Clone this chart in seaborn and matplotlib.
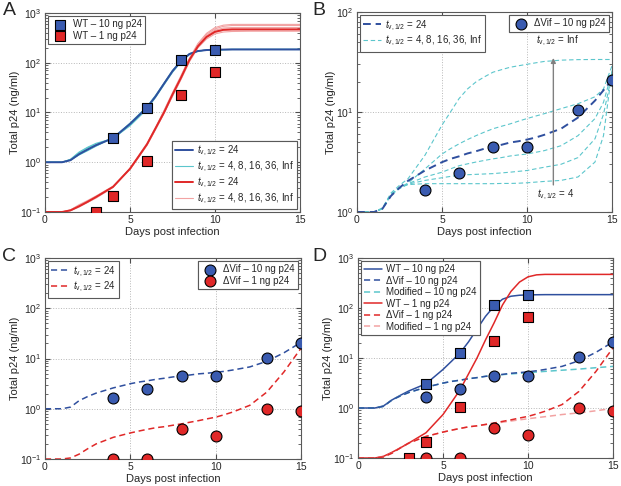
import matplotlib
matplotlib.use("Agg")
import matplotlib.pyplot as plt
import seaborn as sns

# ==========================================
# Datos
# ==========================================
days = [0, 1, 1.5, 2, 2.5, 3, 4, 5, 5.5, 6, 6.5, 7, 7.5, 8, 8.5, 9, 9.5,
        10, 10.5, 11, 12, 13, 14, 14.5, 15]

# WT (t_v,1/2 = 24)
wt10 = [1.0, 1.0, 1.1, 1.45, 1.8, 2.2, 3.05, 5.9, 8.6, 12.6, 21, 38, 68, 108, 150,
        172, 180, 183, 184, 185, 185, 185, 185, 185, 185]
wt1 = [0.1, 0.1, 0.108, 0.13, 0.16, 0.2, 0.32, 0.74, 1.3, 2.3, 4.8, 10, 23, 50, 115,
       215, 330, 420, 460, 470, 470, 470, 470, 470, 470]

# WT, t_v,1/2 = 4, 8, 16, 36, Inf
wt10_fam = [
    [1, 1, 1.15, 1.6, 2.0, 2.4, 3.0, 5.4, 7.9, 11.7, 20, 36, 64, 104, 147, 172, 180, 183, 184, 185, 185, 185, 185, 185, 185],
    [1, 1, 1.13, 1.55, 1.95, 2.3, 3.0, 5.6, 8.2, 12.0, 20.5, 37, 66, 106, 149, 172, 180, 183, 184, 185, 185, 185, 185, 185, 185],
    [1, 1, 1.12, 1.5, 1.85, 2.25, 3.0, 5.8, 8.4, 12.3, 21, 37.5, 67, 107, 150, 172, 180, 183, 184, 185, 185, 185, 185, 185, 185],
    [1, 1, 1.1, 1.42, 1.75, 2.15, 3.05, 6.0, 8.8, 12.9, 21.5, 38.5, 69, 109, 151, 172, 180, 183, 184, 185, 185, 185, 185, 185, 185],
    [1, 1, 1.1, 1.4, 1.7, 2.1, 3.1, 6.1, 9.0, 13.2, 22, 39, 70, 110, 152, 173, 180, 183, 184, 185, 185, 185, 185, 185, 185],
]
wt1_fam = [
    [0.1, 0.1, 0.11, 0.14, 0.17, 0.21, 0.33, 0.72, 1.25, 2.2, 4.5, 9.5, 21, 46, 105, 200, 300, 380, 415, 425, 430, 430, 430, 430, 430],
    [0.1, 0.1, 0.11, 0.135, 0.165, 0.2, 0.32, 0.72, 1.25, 2.2, 4.6, 9.7, 22, 48, 110, 210, 320, 405, 445, 455, 455, 455, 455, 455, 455],
    [0.1, 0.1, 0.108, 0.13, 0.16, 0.2, 0.32, 0.73, 1.3, 2.3, 4.8, 10, 23, 50, 116, 225, 350, 450, 500, 510, 510, 510, 510, 510, 510],
    [0.1, 0.1, 0.107, 0.128, 0.158, 0.2, 0.32, 0.75, 1.3, 2.3, 4.9, 10.5, 24, 53, 120, 235, 370, 480, 540, 560, 560, 560, 560, 560, 560],
    [0.1, 0.1, 0.106, 0.126, 0.155, 0.19, 0.31, 0.76, 1.35, 2.4, 5.0, 11, 25, 55, 125, 245, 390, 510, 570, 590, 590, 590, 590, 590, 590],
]

# Delta Vif (t_v,1/2 = 24)
vif10 = [1.0, 1.0, 1.08, 1.45, 1.75, 2.05, 2.6, 3.15, 3.4, 3.6, 3.85, 4.05, 4.3, 4.5, 4.7,
         4.95, 5.1, 5.3, 5.55, 5.9, 6.8, 8.8, 13, 16.5, 21]
vif1 = [0.1, 0.1, 0.105, 0.125, 0.16, 0.2, 0.27, 0.33, 0.36, 0.39, 0.42, 0.44, 0.47, 0.5,
        0.54, 0.58, 0.63, 0.68, 0.76, 0.86, 1.17, 2.15, 5.4, 9.3, 16]

# Delta Vif, t_v,1/2 = 4, 8, 16, 36, Inf (panel B)
vif10_fam = [
    [1, 1, 1.08, 1.5, 1.75, 1.88, 1.92, 1.92, 1.92, 1.92, 1.92, 1.92, 1.92, 1.92, 1.93, 1.93, 1.94, 1.96, 1.99, 2.02, 2.07, 2.24, 3.16, 5.8, 26],
    [1, 1, 1.08, 1.5, 1.72, 1.9, 2.07, 2.2, 2.27, 2.33, 2.36, 2.38, 2.4, 2.42, 2.46, 2.5, 2.55, 2.6, 2.7, 2.8, 3.0, 3.5, 5.4, 9.5, 24],
    [1, 1, 1.08, 1.48, 1.72, 1.92, 2.24, 2.5, 2.7, 2.9, 3.03, 3.16, 3.28, 3.4, 3.5, 3.63, 3.72, 3.8, 3.95, 4.1, 4.6, 5.8, 8.6, 12.5, 25],
    [1, 1, 1.08, 1.5, 1.75, 1.95, 2.7, 3.8, 4.3, 4.8, 5.3, 5.8, 6.3, 6.8, 7.2, 7.6, 8.1, 8.6, 9.1, 9.6, 10.8, 12.1, 14.2, 17, 29],
    [1, 1, 1.1, 1.55, 1.85, 2.15, 3.7, 7.4, 10, 13.6, 17, 20, 22.5, 25, 26.5, 28, 29, 30, 31, 32, 33, 33.4, 33.5, 33.5, 33.5],
]

# Modificado (panel D)
mod10 = [1.0, 1.0, 1.08, 1.45, 1.75, 2.05, 2.6, 3.15, 3.4, 3.6, 3.85, 4.05, 4.3, 4.5, 4.65,
         4.8, 4.95, 5.1, 5.25, 5.4, 5.7, 6.0, 6.4, 6.6, 6.8]
mod1 = [0.1, 0.1, 0.105, 0.125, 0.16, 0.2, 0.27, 0.33, 0.36, 0.39, 0.42, 0.44, 0.465, 0.49,
        0.52, 0.55, 0.58, 0.61, 0.64, 0.67, 0.74, 0.8, 0.88, 0.93, 0.98]

# Datos experimentales
wt10_days = [4, 6, 8, 10]
wt10_obs = [3.05, 12.6, 115, 178]
wt1_days = [3, 4, 6, 8, 10]
wt1_obs = [0.1, 0.21, 1.05, 22, 66]
vif_days = [4, 6, 8, 10, 13, 15]
vif10_obs = [1.66, 2.44, 4.45, 4.45, 10.4, 20.8]
vif1_obs = [0.1, 0.1, 0.4, 0.29, 1.0, 0.89]

# ==========================================
# Estilo
# ==========================================
sns.set_style("ticks")
plt.rcParams["font.family"] = ["Liberation Sans", "DejaVu Sans"]
plt.rcParams["mathtext.fontset"] = "custom"
plt.rcParams["mathtext.rm"] = "Liberation Sans"
plt.rcParams["mathtext.it"] = "Liberation Sans:italic"
plt.rcParams["mathtext.default"] = "regular"

BLUE = "#2f4f9e"
BLUE_M = "#3a5bb0"
CYAN = "#5cc6cc"
RED = "#e02828"
PINK = "#f2a3a3"
DASH = (0, (4, 2.5))
TV = r"$\mathit{t}_{v,1/2}$"

fig = plt.figure(figsize=(6.21, 4.86), dpi=100)
axA = fig.add_axes([45 / 621, 1 - 212 / 486, 255 / 621, 199 / 486])
axB = fig.add_axes([357 / 621, 1 - 212 / 486, 255 / 621, 200 / 486])
axC = fig.add_axes([45 / 621, 1 - 459 / 486, 256 / 621, 201 / 486])
axD = fig.add_axes([358 / 621, 1 - 458 / 486, 255 / 621, 200 / 486])


def curve(ax, y, color, ls="-", lw=1.2):
    sns.lineplot(x=days, y=y, ax=ax, color=color, linestyle=ls, linewidth=lw, legend=False)
    return ax.lines[-1]


def points(ax, x, y, color, marker, s):
    sns.scatterplot(x=x, y=y, ax=ax, color=color, marker=marker, s=s,
                    edgecolor="black", linewidth=0.8, zorder=5, legend=False)
    return ax.collections[-1]


def legend(ax, handles, labels, loc, size=7):
    lg = ax.legend(handles, labels, loc=loc, fontsize=size, fancybox=False,
                   edgecolor="0.35", framealpha=1, handlelength=1.8,
                   labelspacing=0.15, borderpad=0.35, handletextpad=0.4,
                   borderaxespad=0.3, scatterpoints=1)
    lg.get_frame().set_linewidth(0.8)
    ax.add_artist(lg)
    return lg


for ax in [axA, axB, axC, axD]:
    ax.set_yscale("log")

# ---------- A ----------
for y in wt10_fam:
    hc = curve(axA, y, CYAN, lw=0.8)
for y in wt1_fam:
    hp = curve(axA, y, PINK, lw=0.8)
hb = curve(axA, wt10, BLUE, lw=1.4)
hr = curve(axA, wt1, RED, lw=1.4)
sb = points(axA, wt10_days, wt10_obs, BLUE_M, "s", 48)
sr = points(axA, wt1_days, wt1_obs, RED, "s", 48)
legend(axA, [sb, sr], ["WT \u2013 10 ng p24", "WT \u2013 1 ng p24"], "upper left")
legend(axA, [hb, hc, hr, hp],
       [TV + " = 24", TV + " = 4, 8, 16, 36, Inf", TV + " = 24", TV + " = 4, 8, 16, 36, Inf"],
       "lower right")
axA.set_ylim(0.1, 1000)

# ---------- B ----------
for y in vif10_fam:
    hc2 = curve(axB, y, CYAN, ls=DASH, lw=0.8)
hb2 = curve(axB, vif10, BLUE, ls=DASH, lw=1.4)
cb = points(axB, vif_days, vif10_obs, BLUE_M, "o", 62)
legend(axB, [hb2, hc2], [TV + " = 24", TV + " = 4, 8, 16, 36, Inf"], "upper left")
legend(axB, [cb], ["\u0394Vif \u2013 10 ng p24"], "upper right")
axB.annotate("", xy=(11.55, 37), xytext=(11.55, 1.75),
             arrowprops=dict(arrowstyle="-|>", color="0.5", lw=1.0, mutation_scale=7))
axB.text(10.5, 52, TV + " = Inf", fontsize=7, va="center")
axB.text(10.6, 1.47, TV + " = 4", fontsize=7, va="center")
axB.set_ylim(1, 100)

# ---------- C ----------
hb3 = curve(axC, vif10, BLUE, ls=DASH, lw=1.1)
hr3 = curve(axC, vif1, RED, ls=DASH, lw=1.1)
cb3 = points(axC, vif_days, vif10_obs, BLUE_M, "o", 62)
cr3 = points(axC, vif_days, vif1_obs, RED, "o", 62)
legend(axC, [hb3, hr3], [TV + " = 24", TV + " = 24"], "upper left")
legend(axC, [cb3, cr3], ["\u0394Vif \u2013 10 ng p24", "\u0394Vif \u2013 1 ng p24"], "upper right")
axC.set_ylim(0.1, 1000)

# ---------- D ----------
d1 = curve(axD, wt10, BLUE, lw=1.1)
d3 = curve(axD, mod10, CYAN, ls=DASH, lw=1.1)
d2 = curve(axD, vif10, BLUE, ls=DASH, lw=1.1)
d4 = curve(axD, wt1, RED, lw=1.1)
d6 = curve(axD, mod1, PINK, ls=DASH, lw=1.1)
d5 = curve(axD, vif1, RED, ls=DASH, lw=1.1)
points(axD, wt10_days, wt10_obs, BLUE_M, "s", 48)
points(axD, wt1_days, wt1_obs, RED, "s", 48)
points(axD, vif_days, vif10_obs, BLUE_M, "o", 62)
points(axD, vif_days, vif1_obs, RED, "o", 62)
legend(axD, [d1, d2, d3, d4, d5, d6],
       ["WT \u2013 10 ng p24", "\u0394Vif \u2013 10 ng p24", "Modified \u2013 10 ng p24",
        "WT \u2013 1 ng p24", "\u0394Vif \u2013 1 ng p24", "Modified \u2013 1 ng p24"],
       "upper left")
axD.set_ylim(0.1, 1000)

# ---------- ejes comunes ----------
for ax in [axA, axB, axC, axD]:
    ax.set_xlim(0, 15)
    ax.set_xticks([0, 5, 10, 15])
    ax.grid(True, which="major", linestyle=":", color="0.72", linewidth=0.7)
    ax.tick_params(which="both", direction="in", top=True, right=True,
                   labelsize=7.5, color="0.3")
    ax.tick_params(which="major", length=3.5, pad=2.5)
    ax.tick_params(which="minor", length=2)
    for sp in ax.spines.values():
        sp.set_visible(True)
        sp.set_color("0.35")
        sp.set_linewidth(0.8)
    ax.set_xlabel("Days post infection", fontsize=8, labelpad=1)
    ax.set_ylabel("Total p24 (ng/ml)", fontsize=8, labelpad=0)

for letter, x, y in [("A", 0.004, 0.995), ("B", 0.503, 0.995),
                     ("C", 0.004, 0.49), ("D", 0.503, 0.49)]:
    fig.text(x, y, letter, fontsize=14, va="top", ha="left")

fig.savefig("out.png", dpi=100)
